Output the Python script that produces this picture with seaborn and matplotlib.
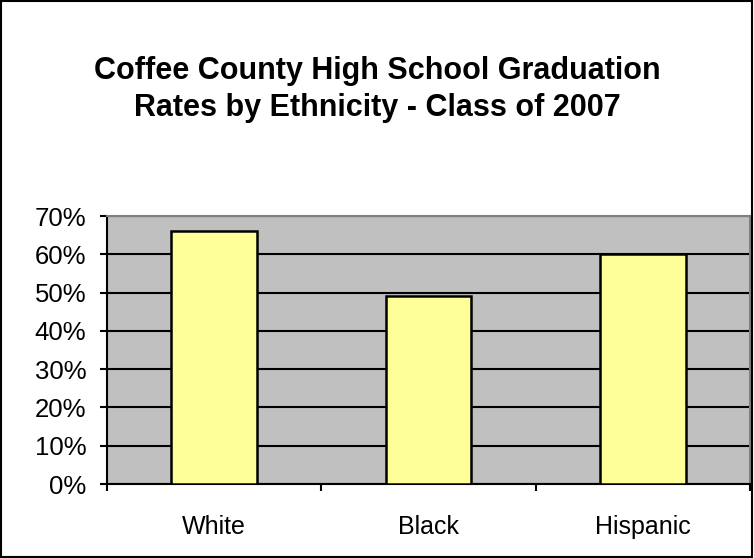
import matplotlib
matplotlib.use("Agg")
import matplotlib.pyplot as plt
import seaborn as sns
import pandas as pd
from matplotlib.ticker import FuncFormatter, MultipleLocator, FixedLocator

categories = ["White", "Black", "Hispanic"]
rates = [66, 49, 60]
title = "Coffee County High School Graduation\nRates by Ethnicity - Class of 2007"

df = pd.DataFrame({"group": categories, "rate": rates})

sns.set_theme(style="white")
plt.rcParams["font.family"] = ["Liberation Sans", "DejaVu Sans"]
plt.rcParams["text.color"] = "black"
plt.rcParams["xtick.color"] = "black"
plt.rcParams["ytick.color"] = "black"
plt.rcParams["xtick.labelcolor"] = "black"
plt.rcParams["ytick.labelcolor"] = "black"

fig = plt.figure(figsize=(7.54, 5.58), dpi=100)
fig.patch.set_facecolor("white")
ax = fig.add_axes([107/754, 1-484/558, (750-107)/754, (484-216)/558])
ax.set_facecolor("#C0C0C0")

ax.yaxis.grid(True, color="black", linewidth=1.5, zorder=0)
ax.set_axisbelow(True)
sns.barplot(data=df, x="group", y="rate", color="#FFFF99", edgecolor="black",
            linewidth=1.8, width=0.4, saturation=1, ax=ax, zorder=3)

ax.set_xlim(-0.5, 2.5)
ax.set_ylim(0, 70)
ax.yaxis.set_major_locator(MultipleLocator(10))
ax.yaxis.set_major_formatter(FuncFormatter(lambda v, p: f"{int(round(v))}%"))
ax.set_xlabel("")
ax.set_ylabel("")

ax.tick_params(axis="y", which="major", direction="out", length=5, width=1.5,
               color="black", labelsize=18.5, pad=10, left=True, labelcolor="black")
ax.tick_params(axis="x", which="major", length=0, labelsize=18, pad=22,
               labelcolor="black")
ax.xaxis.set_minor_locator(FixedLocator([-0.5, 0.5, 1.5, 2.5]))
ax.tick_params(axis="x", which="minor", direction="out", length=5, width=1.5,
               color="black", bottom=True)

for s in ["left", "bottom"]:
    ax.spines[s].set_color("black")
    ax.spines[s].set_linewidth(1.5)
for s in ["top", "right"]:
    ax.spines[s].set_color("#808080")
    ax.spines[s].set_linewidth(1.5)

fig.text(0.5, 1-89.5/558, title, ha="center", va="center", fontsize=22,
         fontweight="bold", linespacing=1.3, color="black")

fig.add_artist(plt.Rectangle((0.001, 0.001), 0.997, 0.997, transform=fig.transFigure,
                             fill=False, edgecolor="black", linewidth=1.5))

fig.savefig("out.png", dpi=100)
